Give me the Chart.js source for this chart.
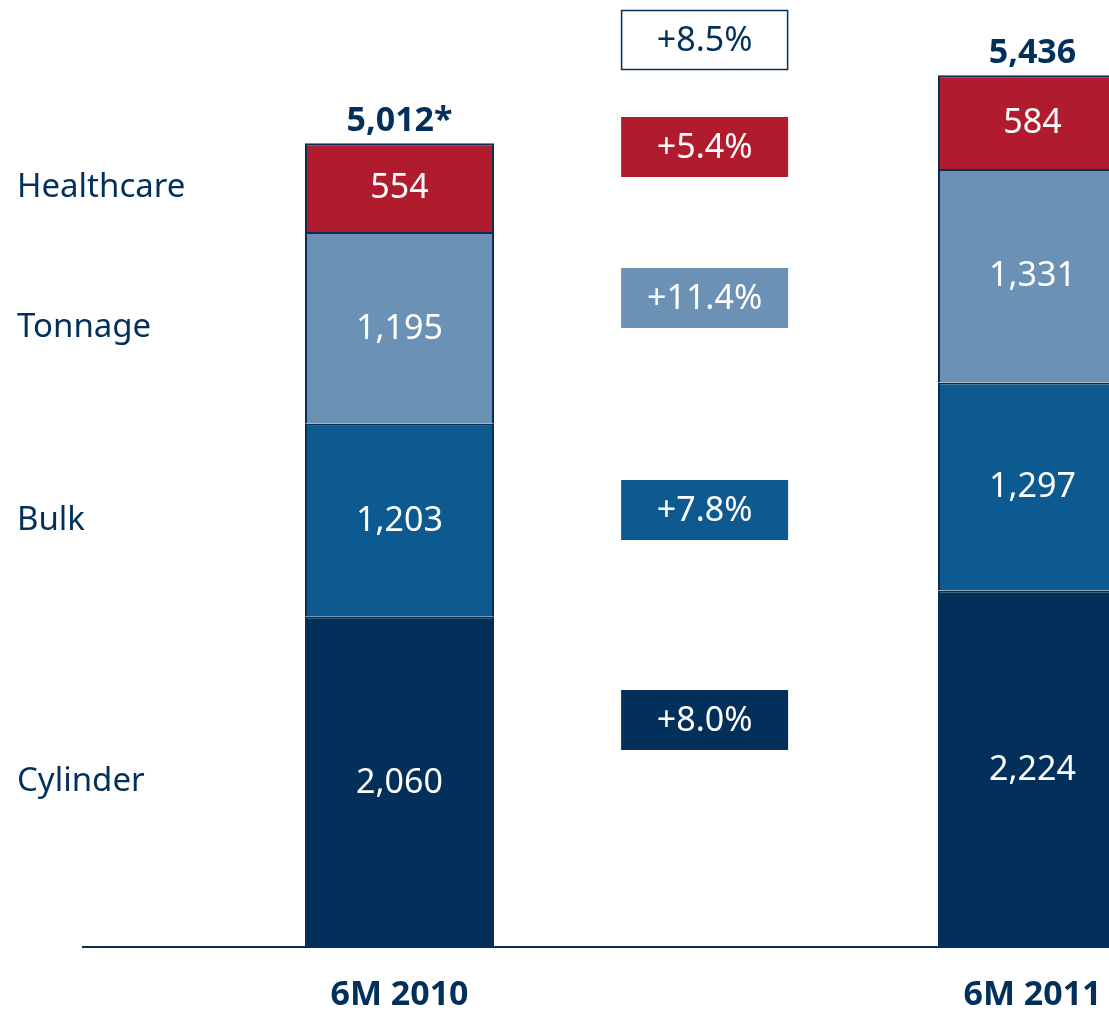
<!DOCTYPE html>
<html>
<head>
<meta charset="utf-8">
<script src="https://cdn.jsdelivr.net/npm/chart.js@4"></script>
<style>
  html, body { margin: 0; padding: 0; background: #fff; overflow: hidden; }
  #wrap { position: relative; width: 1349px; height: 1044px; }
</style>
</head>
<body>
<div id="wrap"><canvas id="ventas"></canvas></div>
<script>
const periods = ['6M 2010', '6M 2011'];
const segments = ['Cylinder', 'Bulk', 'Tonnage', 'Healthcare'];
const cylinder = [2060, 2224];
const bulk = [1203, 1297];
const tonnage = [1195, 1331];
const healthcare = [554, 584];
const totalNotes = ['*', ''];
const totalGrowth = '+8.5%';
const segmentGrowth = ['+8.0%', '+7.8%', '+11.4%', '+5.4%']; // same order as segments

const navy = '#02305a';
const colores = ['#02305a', '#0d5a91', '#6b91b5', '#b01c2e'];
const fuente = '"Noto Sans", "Open Sans", sans-serif';

const ctx = document.getElementById('ventas');

/* etiquetas dentro de las barras, totales, nombres y cajas de crecimiento */
const etiquetas = {
    id: 'etiquetas',
    afterDatasetsDraw(chart) {
        const c = chart.ctx;
        c.save();
        c.textAlign = 'center';
        c.textBaseline = 'middle';

        // valores dentro de cada segmento
        chart.data.datasets.forEach((ds, i) => {
            chart.getDatasetMeta(i).data.forEach((bar, j) => {
                c.fillStyle = '#fff';
                c.font = '34px ' + fuente;
                c.fillText(ds.data[j].toLocaleString('en-US'), bar.x, (bar.y + bar.base) / 2 + 1);
            });
        });

        // totales encima de las barras
        const top = chart.getDatasetMeta(chart.data.datasets.length - 1).data;
        top.forEach((bar, j) => {
            let total = 0;
            chart.data.datasets.forEach(ds => { total += ds.data[j]; });
            c.fillStyle = navy;
            c.font = 'bold 34px ' + fuente;
            c.textBaseline = 'alphabetic';
            c.fillText(total.toLocaleString('en-US') + totalNotes[j], bar.x, bar.y - 12);
        });

        // nombres de segmentos a la izquierda, alineados con la primera barra
        c.textAlign = 'left';
        c.textBaseline = 'middle';
        c.font = '33px ' + fuente;
        c.fillStyle = navy;
        chart.data.datasets.forEach((ds, i) => {
            const bar = chart.getDatasetMeta(i).data[0];
            c.fillText(ds.label, 17, (bar.y + bar.base) / 2);
        });

        // cajas de crecimiento
        const x0 = chart.getDatasetMeta(0).data[0].x;
        const x1 = chart.getDatasetMeta(0).data[1].x;
        const cx = x0 + (x1 - x0) * 0.482;
        const w = 167, h = 60;
        const centros = [720, 510, 298, 147];
        c.textAlign = 'center';
        c.font = '34px ' + fuente;
        segmentGrowth.forEach((txt, i) => {
            c.fillStyle = colores[i];
            c.fillRect(cx - w / 2, centros[i] - h / 2, w, h);
            c.fillStyle = '#fff';
            c.fillText(txt, cx, centros[i] + 1);
        });
        c.fillStyle = '#fff';
        c.fillRect(cx - w / 2, 10, w, h);
        c.strokeStyle = navy;
        c.lineWidth = 1.5;
        c.strokeRect(cx - w / 2 + 0.5, 10.5, w - 1, h - 1);
        c.fillStyle = navy;
        c.fillText(totalGrowth, cx, 41);
        c.restore();
    }
};

new Chart(ctx, {
    type: 'bar',
    data: {
        labels: periods,
        datasets: [
            { label: segments[0], data: cylinder, backgroundColor: colores[0] },
            { label: segments[1], data: bulk, backgroundColor: colores[1] },
            { label: segments[2], data: tonnage, backgroundColor: colores[2] },
            { label: segments[3], data: healthcare, backgroundColor: colores[3] }
        ].map(ds => Object.assign(ds, {
            borderColor: '#0b2d55',
            borderWidth: 2,
            barPercentage: 0.2986,
            categoryPercentage: 1
        }))
    },
    options: {
        responsive: true,
        maintainAspectRatio: false,
        animation: false,
        layout: { padding: { left: 83, top: 0, right: 0, bottom: 0 } },
        plugins: {
            legend: { display: false },
            tooltip: { enabled: false }
        },
        scales: {
            x: {
                stacked: true,
                grid: { display: false, drawTicks: false },
                border: { display: true, color: navy, width: 2 },
                ticks: {
                    color: navy,
                    padding: 28,
                    font: { family: fuente, size: 34, weight: 'bold' }
                }
            },
            y: {
                stacked: true,
                display: false,
                min: 0,
                max: 5905
            }
        }
    },
    plugins: [etiquetas]
});
</script>
</body>
</html>
